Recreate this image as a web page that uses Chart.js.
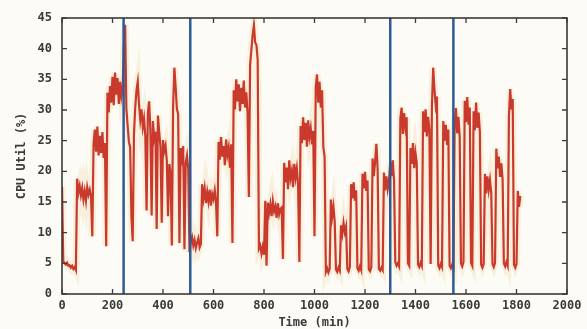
<!DOCTYPE html>
<html>
<head>
<meta charset="utf-8">
<title>CPU Util</title>
<script src="https://cdn.jsdelivr.net/npm/chart.js@4.4.1/dist/chart.umd.min.js"></script>
<style>
  html, body { margin: 0; padding: 0; background: #fcfbf6; }
  #wrap { width: 587px; height: 329px; }
</style>
</head>
<body>
<div id="wrap"><canvas id="myChart" width="587" height="329"></canvas></div>
<script>
'use strict';

// DATA (one sample every 5 min)
const startMin = 0;
const stepMin = 5;

const cpuUtil = [
  17.5, 5.4, 5.0, 4.8, 5.1, 4.6, 4.7, 4.3, 4.6, 4.1, 4.4, 3.9, 18.8, 16.5, 17.6, 16.1, 17.3, 15.4, 16.8, 15.2,
  17.4, 16.2, 17.0, 15.9, 9.4, 24.5, 26.8, 23.2, 27.3, 22.6, 25.8, 23.0, 26.4, 22.2, 24.6, 7.8, 32.8, 29.6, 33.9, 31.2,
  35.4, 30.8, 36.1, 32.5, 35.2, 31.0, 34.6, 32.1, 33.4, 40.5, 43.9, 30.2, 27.4, 24.8, 23.9, 12.5, 8.6, 26.0, 30.4, 33.2,
  34.6, 30.9, 28.4, 30.1, 27.2, 28.6, 25.8, 13.6, 29.5, 31.4, 26.8, 12.8, 28.2, 25.4, 26.5, 10.6, 29.1, 26.4, 24.0, 11.6,
  25.1, 23.3, 24.2, 21.8, 12.7, 21.2, 19.8, 7.9, 30.5, 36.9, 33.8, 30.2, 29.3, 8.3, 23.8, 22.2, 24.1, 7.3, 21.4, 22.6,
  20.4, 6.8, 8.6, 9.3, 7.9, 8.8, 7.5, 8.4, 9.1, 7.6, 8.2, 17.9, 15.6, 17.2, 14.8, 16.6, 15.1, 17.0, 14.4, 16.3,
  15.5, 16.9, 14.9, 9.4, 24.8, 21.9, 25.6, 22.4, 24.1, 21.0, 25.2, 22.7, 23.9, 20.6, 24.4, 8.3, 33.2, 30.1, 35.0, 31.4,
  34.2, 29.8, 33.6, 31.0, 34.8, 30.4, 32.9, 29.4, 15.8, 37.4, 39.8, 42.2, 43.8, 41.0, 40.6, 38.2, 7.4, 7.9, 6.6, 7.7,
  6.4, 15.2, 4.6, 14.9, 13.2, 14.6, 12.7, 15.1, 13.5, 14.3, 12.4, 14.8, 13.0, 13.9, 14.1, 5.7, 21.4, 18.2, 20.6, 17.1,
  21.8, 18.9, 20.1, 17.4, 21.2, 19.0, 20.5, 17.8, 5.2, 27.4, 24.6, 28.8, 25.1, 27.9, 24.0, 28.3, 25.6, 27.0, 24.4, 26.6,
  9.4, 33.8, 35.8, 31.2, 34.6, 30.4, 33.2, 23.9, 22.4, 3.6, 4.2, 3.5, 4.1, 15.4, 12.6, 14.2, 11.8, 4.0, 3.6, 4.3,
  3.8, 11.2, 9.8, 11.6, 10.1, 11.0, 4.1, 3.7, 4.4, 17.9, 15.6, 18.2, 15.2, 16.9, 4.2, 3.8, 4.5, 3.9, 19.6, 17.2,
  19.9, 16.8, 18.5, 4.0, 3.7, 4.4, 22.1, 19.2, 21.6, 24.5, 20.4, 4.1, 3.8, 4.3, 3.9, 19.8, 16.9, 19.2, 17.1, 18.4,
  21.5, 19.2, 21.8, 18.6, 5.2, 4.6, 5.0, 4.5, 28.6, 30.4, 26.1, 29.5, 27.2, 28.8, 5.0, 4.6, 23.8, 21.2, 24.6, 20.5,
  23.0, 21.4, 4.8, 4.4, 5.1, 4.6, 29.8, 26.4, 30.1, 25.7, 28.9, 26.8, 4.9, 30.6, 36.9, 33.4, 30.8, 32.2, 4.7, 4.2,
  4.9, 4.4, 28.2, 25.0, 27.6, 24.3, 26.8, 4.6, 4.2, 4.8, 4.3, 27.5, 30.3, 26.2, 28.9, 25.6, 5.0, 4.5, 5.2, 31.5,
  28.0, 32.1, 27.6, 30.4, 5.1, 4.6, 29.8, 26.7, 31.2, 27.1, 29.6, 26.4, 4.8, 4.3, 4.9, 19.6, 16.4, 19.2, 17.0, 18.6,
  16.5, 4.9, 4.4, 5.1, 23.7, 20.5, 22.4, 19.1, 21.3, 18.6, 5.0, 4.5, 5.2, 4.6, 28.9, 33.4, 30.1, 31.8, 4.8, 4.3,
  4.9, 16.8, 14.2, 16.0
];

// vertical marker lines (min)
const markerTimes = [244, 508, 1300, 1550];

// axis ticks
const xTicks = [0, 200, 400, 600, 800, 1000, 1200, 1400, 1600, 1800, 2000];
const yTicks = [0, 5, 10, 15, 20, 25, 30, 35, 40, 45];

const xTitle = 'Time (min)';
const yTitle = 'CPU Util (%)';

// STYLE
const textColor = '#3a3a3a';
const tickFont = { family: 'DejaVu Sans Mono', size: 12, weight: 'bold' };
const titleFont = { family: 'DejaVu Sans Mono', size: 12, weight: 'bold', lineHeight: 1 };

// BUILD DATASETS
let cpuPoints = [];
for (let i = 0; i < cpuUtil.length; i++) {
  cpuPoints.push({ x: startMin + i * stepMin, y: cpuUtil[i] });
}

let datasets = [];

for (let i = 0; i < markerTimes.length; i++) {
  datasets.push({
    data: [{ x: markerTimes[i], y: yTicks[0] }, { x: markerTimes[i], y: yTicks[yTicks.length - 1] }],
    borderColor: '#2c5b96',
    borderWidth: 2.5,
    order: 0
  });
}

datasets.push({
  data: cpuPoints,
  borderColor: '#c9392c',
  borderWidth: 2.2,
  order: 1
});

// faint jpeg-ish halo around the trace
datasets.push({
  data: cpuPoints,
  borderColor: 'rgba(238, 214, 160, 0.3)',
  borderWidth: 7,
  order: 2
});

// HELPERS
function plainLabel(value) {
  return String(value);
}

// PLUGINS
const bgPlugin = {
  id: 'bg',
  beforeDraw(chart) {
    const ctx = chart.ctx;
    ctx.save();
    ctx.fillStyle = '#fcfbf6';
    ctx.fillRect(0, 0, chart.width, chart.height);
    ctx.restore();
  }
};

// gnuplot style frame with inward ticks on all four sides
const framePlugin = {
  id: 'frame',
  afterDraw(chart) {
    const ctx = chart.ctx;
    const a = chart.chartArea;
    const xs = chart.scales.x;
    const ys = chart.scales.y;
    ctx.save();
    ctx.strokeStyle = '#3a3a3a';
    ctx.lineWidth = 1.6;
    ctx.strokeRect(a.left, a.top, a.right - a.left, a.bottom - a.top);
    ctx.lineWidth = 1.3;
    ctx.beginPath();
    xs.ticks.forEach(function (t) {
      const px = xs.getPixelForValue(t.value);
      ctx.moveTo(px, a.bottom);
      ctx.lineTo(px, a.bottom - 5);
      ctx.moveTo(px, a.top);
      ctx.lineTo(px, a.top + 5);
    });
    ys.ticks.forEach(function (t) {
      const py = ys.getPixelForValue(t.value);
      ctx.moveTo(a.left, py);
      ctx.lineTo(a.left + 5, py);
      ctx.moveTo(a.right, py);
      ctx.lineTo(a.right - 5, py);
    });
    ctx.stroke();
    ctx.restore();
  }
};

// CHART
const ctx = document.getElementById('myChart').getContext('2d');
const myChart = new Chart(ctx, {
  type: 'line',
  data: { datasets: datasets },
  options: {
    responsive: false,
    animation: false,
    layout: { padding: { top: 18, right: 20, left: 0, bottom: 0 } },
    elements: {
      point: { radius: 0 },
      line: { tension: 0 }
    },
    plugins: {
      legend: { display: false },
      tooltip: { enabled: false }
    },
    scales: {
      x: {
        type: 'linear',
        min: xTicks[0],
        max: xTicks[xTicks.length - 1],
        grid: { display: false, drawTicks: false },
        border: { display: false },
        afterBuildTicks: function (scale) {
          scale.ticks = xTicks.map(function (v) { return { value: v }; });
        },
        afterFit: function (scale) { scale.height = 35; },
        ticks: {
          padding: 5,
          maxRotation: 0,
          autoSkip: false,
          color: textColor,
          font: tickFont,
          callback: plainLabel
        },
        title: {
          display: true,
          text: xTitle,
          color: textColor,
          font: titleFont,
          padding: 0
        }
      },
      y: {
        min: yTicks[0],
        max: yTicks[yTicks.length - 1],
        grid: { display: false, drawTicks: false },
        border: { display: false },
        afterBuildTicks: function (scale) {
          scale.ticks = yTicks.map(function (v) { return { value: v }; });
        },
        afterFit: function (scale) { scale.width = 62; },
        ticks: {
          padding: 10,
          autoSkip: false,
          color: textColor,
          font: tickFont,
          callback: plainLabel
        },
        title: {
          display: true,
          text: yTitle,
          color: textColor,
          font: titleFont,
          padding: { top: 16, bottom: 0 }
        }
      }
    }
  },
  plugins: [bgPlugin, framePlugin]
});
</script>
</body>
</html>
